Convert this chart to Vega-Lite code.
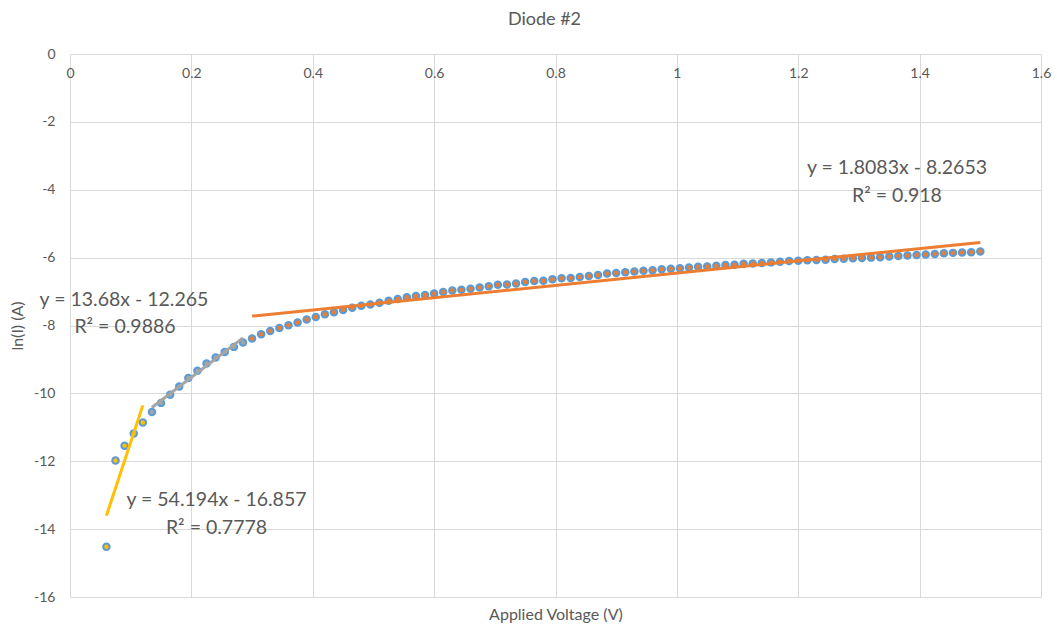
{
  "$schema": "https://vega.github.io/schema/vega-lite/v6.json",
  "width": 971,
  "height": 543,
  "autosize": {"type": "none"},
  "padding": {"left": 70, "top": 54, "right": 16, "bottom": 30},
  "background": "white",
  "title": {"text": "Diode #2", "font": "Lato", "fontSize": 18, "fontWeight": "normal", "color": "#595959", "anchor": "middle", "baseline": "middle", "offset": 36, "dx": -11, "dy": 27},
  "config": {"view": {"stroke": null}, "font": "Lato"},
  "datasets": {
    "points": [
      {"v": 0.06, "lnI": -14.52, "seg": "low"},
      {"v": 0.075, "lnI": -11.98, "seg": "low"},
      {"v": 0.09, "lnI": -11.54, "seg": "low"},
      {"v": 0.105, "lnI": -11.18, "seg": "low"},
      {"v": 0.12, "lnI": -10.86, "seg": "low"},
      {"v": 0.135, "lnI": -10.55, "seg": "mid"},
      {"v": 0.15, "lnI": -10.28, "seg": "mid"},
      {"v": 0.165, "lnI": -10.04, "seg": "mid"},
      {"v": 0.18, "lnI": -9.80, "seg": "mid"},
      {"v": 0.195, "lnI": -9.55, "seg": "mid"},
      {"v": 0.21, "lnI": -9.33, "seg": "mid"},
      {"v": 0.225, "lnI": -9.12, "seg": "mid"},
      {"v": 0.24, "lnI": -8.94, "seg": "mid"},
      {"v": 0.255, "lnI": -8.78, "seg": "mid"},
      {"v": 0.27, "lnI": -8.63, "seg": "mid"},
      {"v": 0.285, "lnI": -8.50, "seg": "mid"},
      {"v": 0.3, "lnI": -8.38, "seg": "high"},
      {"v": 0.315, "lnI": -8.26, "seg": "high"},
      {"v": 0.33, "lnI": -8.16, "seg": "high"},
      {"v": 0.345, "lnI": -8.07, "seg": "high"},
      {"v": 0.36, "lnI": -7.99, "seg": "high"},
      {"v": 0.375, "lnI": -7.91, "seg": "high"},
      {"v": 0.39, "lnI": -7.82, "seg": "high"},
      {"v": 0.405, "lnI": -7.75, "seg": "high"},
      {"v": 0.42, "lnI": -7.67, "seg": "high"},
      {"v": 0.435, "lnI": -7.61, "seg": "high"},
      {"v": 0.45, "lnI": -7.54, "seg": "high"},
      {"v": 0.465, "lnI": -7.48, "seg": "high"},
      {"v": 0.48, "lnI": -7.42, "seg": "high"},
      {"v": 0.495, "lnI": -7.38, "seg": "high"},
      {"v": 0.51, "lnI": -7.33, "seg": "high"},
      {"v": 0.525, "lnI": -7.27, "seg": "high"},
      {"v": 0.54, "lnI": -7.22, "seg": "high"},
      {"v": 0.555, "lnI": -7.17, "seg": "high"},
      {"v": 0.57, "lnI": -7.13, "seg": "high"},
      {"v": 0.585, "lnI": -7.10, "seg": "high"},
      {"v": 0.6, "lnI": -7.06, "seg": "high"},
      {"v": 0.615, "lnI": -7.01, "seg": "high"},
      {"v": 0.63, "lnI": -6.97, "seg": "high"},
      {"v": 0.645, "lnI": -6.95, "seg": "high"},
      {"v": 0.66, "lnI": -6.92, "seg": "high"},
      {"v": 0.675, "lnI": -6.88, "seg": "high"},
      {"v": 0.69, "lnI": -6.84, "seg": "high"},
      {"v": 0.705, "lnI": -6.80, "seg": "high"},
      {"v": 0.72, "lnI": -6.79, "seg": "high"},
      {"v": 0.735, "lnI": -6.76, "seg": "high"},
      {"v": 0.75, "lnI": -6.72, "seg": "high"},
      {"v": 0.765, "lnI": -6.69, "seg": "high"},
      {"v": 0.78, "lnI": -6.68, "seg": "high"},
      {"v": 0.795, "lnI": -6.64, "seg": "high"},
      {"v": 0.81, "lnI": -6.61, "seg": "high"},
      {"v": 0.825, "lnI": -6.60, "seg": "high"},
      {"v": 0.84, "lnI": -6.57, "seg": "high"},
      {"v": 0.855, "lnI": -6.54, "seg": "high"},
      {"v": 0.87, "lnI": -6.51, "seg": "high"},
      {"v": 0.885, "lnI": -6.47, "seg": "high"},
      {"v": 0.9, "lnI": -6.45, "seg": "high"},
      {"v": 0.915, "lnI": -6.43, "seg": "high"},
      {"v": 0.93, "lnI": -6.41, "seg": "high"},
      {"v": 0.945, "lnI": -6.39, "seg": "high"},
      {"v": 0.96, "lnI": -6.37, "seg": "high"},
      {"v": 0.975, "lnI": -6.34, "seg": "high"},
      {"v": 0.99, "lnI": -6.33, "seg": "high"},
      {"v": 1.005, "lnI": -6.31, "seg": "high"},
      {"v": 1.02, "lnI": -6.29, "seg": "high"},
      {"v": 1.035, "lnI": -6.27, "seg": "high"},
      {"v": 1.05, "lnI": -6.26, "seg": "high"},
      {"v": 1.065, "lnI": -6.24, "seg": "high"},
      {"v": 1.08, "lnI": -6.22, "seg": "high"},
      {"v": 1.095, "lnI": -6.21, "seg": "high"},
      {"v": 1.11, "lnI": -6.18, "seg": "high"},
      {"v": 1.125, "lnI": -6.17, "seg": "high"},
      {"v": 1.14, "lnI": -6.16, "seg": "high"},
      {"v": 1.155, "lnI": -6.14, "seg": "high"},
      {"v": 1.17, "lnI": -6.12, "seg": "high"},
      {"v": 1.185, "lnI": -6.10, "seg": "high"},
      {"v": 1.2, "lnI": -6.09, "seg": "high"},
      {"v": 1.215, "lnI": -6.08, "seg": "high"},
      {"v": 1.23, "lnI": -6.07, "seg": "high"},
      {"v": 1.245, "lnI": -6.06, "seg": "high"},
      {"v": 1.26, "lnI": -6.04, "seg": "high"},
      {"v": 1.275, "lnI": -6.03, "seg": "high"},
      {"v": 1.29, "lnI": -6.02, "seg": "high"},
      {"v": 1.305, "lnI": -6.01, "seg": "high"},
      {"v": 1.32, "lnI": -6.00, "seg": "high"},
      {"v": 1.335, "lnI": -5.99, "seg": "high"},
      {"v": 1.35, "lnI": -5.97, "seg": "high"},
      {"v": 1.365, "lnI": -5.95, "seg": "high"},
      {"v": 1.38, "lnI": -5.94, "seg": "high"},
      {"v": 1.395, "lnI": -5.92, "seg": "high"},
      {"v": 1.41, "lnI": -5.91, "seg": "high"},
      {"v": 1.425, "lnI": -5.89, "seg": "high"},
      {"v": 1.44, "lnI": -5.87, "seg": "high"},
      {"v": 1.455, "lnI": -5.86, "seg": "high"},
      {"v": 1.47, "lnI": -5.85, "seg": "high"},
      {"v": 1.485, "lnI": -5.84, "seg": "high"},
      {"v": 1.5, "lnI": -5.82, "seg": "high"}
    ],
    "trend": [
      {"seg": "low", "v": 0.06, "lnI": -13.605},
      {"seg": "low", "v": 0.12, "lnI": -10.354},
      {"seg": "mid", "v": 0.135, "lnI": -10.418},
      {"seg": "mid", "v": 0.285, "lnI": -8.366},
      {"seg": "high", "v": 0.3, "lnI": -7.723},
      {"seg": "high", "v": 1.5, "lnI": -5.553}
    ],
    "labels": [
      {"v": 1.3627, "lnI": -3.36, "text": "y = 1.8083x - 8.2653"},
      {"v": 1.3627, "lnI": -4.18, "text": "R² = 0.918"},
      {"v": 0.089, "lnI": -7.25, "text": "y = 13.68x - 12.265"},
      {"v": 0.0906, "lnI": -8.04, "text": "R² = 0.9886"},
      {"v": 0.2414, "lnI": -13.14, "text": "y = 54.194x - 16.857"},
      {"v": 0.2414, "lnI": -13.97, "text": "R² = 0.7778"}
    ]
  },
  "encoding": {
    "x": {
      "field": "v", "type": "quantitative",
      "scale": {"domain": [0, 1.6], "nice": false, "zero": false},
      "axis": {
        "orient": "top", "title": "Applied Voltage (V)",
        "values": [0, 0.2, 0.4, 0.6, 0.8, 1, 1.2, 1.4, 1.6],
        "labelExpr": "toString(datum.value)",
        "grid": true, "gridColor": "#D9D9D9", "gridWidth": 1,
        "domain": false, "ticks": false, "minExtent": 0, "maxExtent": 0,
        "labelPadding": -19, "labelBaseline": "middle", "labelFlush": false, "labelOverlap": false,
        "labelColor": "#595959", "labelFontSize": 14, "labelFont": "Lato",
        "titleY": 560, "titleBaseline": "middle", "titleFontWeight": "normal",
        "titleFontSize": 16, "titleColor": "#595959", "titleFont": "Lato"
      }
    },
    "y": {
      "field": "lnI", "type": "quantitative",
      "scale": {"domain": [-16, 0], "nice": false, "zero": false},
      "axis": {
        "title": "ln(I) (A)",
        "values": [0, -2, -4, -6, -8, -10, -12, -14, -16],
        "labelExpr": "toString(datum.value)",
        "grid": true, "gridColor": "#D9D9D9", "gridWidth": 1,
        "domain": false, "ticks": false,
        "labelPadding": 15, "labelFlush": false, "labelOverlap": false,
        "labelColor": "#595959", "labelFontSize": 14, "labelFont": "Lato",
        "titleX": -53, "titleY": 271.5, "titleBaseline": "middle", "titleFontWeight": "normal",
        "titleFontSize": 16, "titleColor": "#595959", "titleFont": "Lato"
      }
    }
  },
  "layer": [
    {
      "data": {"name": "points"},
      "mark": {"type": "circle", "color": "#5B9BD5", "size": 72, "opacity": 1}
    },
    {
      "data": {"name": "trend"},
      "mark": {"type": "line", "strokeWidth": 3},
      "encoding": {
        "color": {"field": "seg", "type": "nominal", "scale": {"domain": ["low", "mid", "high"], "range": ["#FFC000", "#A5A5A5", "#ED7D31"]}, "legend": null},
        "detail": {"field": "seg"}
      }
    },
    {
      "data": {"name": "points"},
      "mark": {"type": "circle", "size": 20, "opacity": 1},
      "encoding": {
        "color": {"field": "seg", "type": "nominal", "scale": {"domain": ["low", "mid", "high"], "range": ["#FFC000", "#A5A5A5", "#ED7D31"]}, "legend": null}
      }
    },
    {
      "data": {"name": "labels"},
      "mark": {"type": "text", "font": "Lato", "fontSize": 19.5, "color": "#595959", "align": "center", "baseline": "middle"},
      "encoding": {"text": {"field": "text"}}
    }
  ]
}
